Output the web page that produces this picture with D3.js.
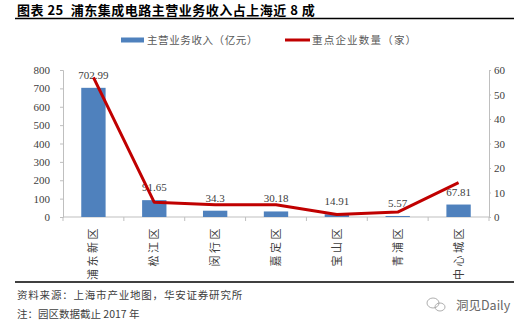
<!DOCTYPE html>
<html>
<head>
<meta charset="utf-8">
<script src="https://cdn.jsdelivr.net/npm/d3@7/dist/d3.min.js"></script>
<style>
  html, body { margin: 0; padding: 0; background: #fff; }
  svg { display: block; }
  text { white-space: pre; }
</style>
</head>
<body>
<svg id="chart" width="529" height="328"></svg>
<script>
// Districts, main-business revenue (100M yuan) and number of key firms
const districts = ["浦东新区", "松江区", "闵行区", "嘉定区", "宝山区", "青浦区", "中心城区"];
const revenue = [702.99, 91.65, 34.3, 30.18, 14.91, 5.57, 67.81];
const firms = [57, 6, 5, 5, 1, 2, 14];
const leftTicks = [0, 100, 200, 300, 400, 500, 600, 700, 800];
const rightTicks = [0, 10, 20, 30, 40, 50, 60];

const titleText = "图表 25  浦东集成电路主营业务收入占上海近 8 成";
const legendRevenue = "主营业务收入（亿元）";
const legendFirms = "重点企业数量（家）";
const sourceText = "资料来源：上海市产业地图，华安证券研究所";
const noteText = "注：园区数据截止 2017 年";

const svg = d3.select("#chart");
const cjk = "'Noto Sans CJK SC', 'Noto Sans', sans-serif";
const serif = "'Liberation Serif', 'DejaVu Serif', serif";
const barColor = "#4F81BD";
const lineColor = "#C00000";
const axisColor = "#BFBFBF";

const plot = { left: 63, right: 489, top: 70, bottom: 217 };

const x = d3.scaleBand().domain(districts)
  .range([plot.left, plot.right]).paddingInner(0.6).paddingOuter(0.3);
const yL = d3.scaleLinear().domain([0, 800]).range([plot.bottom, plot.top]);
const yR = d3.scaleLinear().domain([0, 60]).range([plot.bottom, plot.top]);

// Title and rules
svg.append("text").attr("x", 17).attr("y", 15)
  .attr("font-family", cjk).attr("font-weight", "bold").attr("font-size", 13)
  .attr("letter-spacing", 0.5)
  .attr("fill", "#000").text(titleText);
svg.append("line").attr("x1", 15).attr("x2", 514).attr("y1", 18.5).attr("y2", 18.5)
  .attr("stroke", "#000").attr("stroke-width", 1.3);
svg.append("line").attr("x1", 15).attr("x2", 514).attr("y1", 282).attr("y2", 282)
  .attr("stroke", "#000").attr("stroke-width", 1.3);

// Legend
const lg = svg.append("g").attr("font-family", cjk).attr("font-size", 10.5).attr("fill", "#595959");
lg.append("rect").attr("x", 121).attr("y", 37.5).attr("width", 23).attr("height", 5).attr("fill", barColor);
lg.append("text").attr("x", 147).attr("y", 44).attr("letter-spacing", 0.6).text(legendRevenue);
lg.append("line").attr("x1", 285).attr("x2", 310).attr("y1", 40).attr("y2", 40)
  .attr("stroke", lineColor).attr("stroke-width", 3);
lg.append("text").attr("x", 312).attr("y", 44).attr("letter-spacing", 1.2).text(legendFirms);

// Left axis
const axL = svg.append("g").attr("transform", `translate(${plot.left},0)`)
  .call(d3.axisLeft(yL).tickValues(leftTicks).tickSize(3).tickPadding(10).tickFormat(d3.format("d")));
// Right axis
const axR = svg.append("g").attr("transform", `translate(${plot.right},0)`)
  .call(d3.axisRight(yR).tickValues(rightTicks).tickSize(2).tickPadding(3).tickFormat(d3.format("d")));
[axL, axR].forEach(a => {
  a.select(".domain").attr("stroke", axisColor);
  a.selectAll(".tick line").attr("stroke", axisColor);
  a.selectAll(".tick text").attr("font-family", serif).attr("font-size", 11).attr("fill", "#404040");
});

// Category axis with ticks at band boundaries
const step = x.step();
const bounds = d3.range(districts.length + 1).map(i => plot.left + i * step);
svg.append("line").attr("x1", plot.left).attr("x2", plot.right)
  .attr("y1", plot.bottom).attr("y2", plot.bottom).attr("stroke", axisColor);
svg.append("g").selectAll("line").data(bounds).join("line")
  .attr("x1", d => d).attr("x2", d => d)
  .attr("y1", plot.bottom).attr("y2", plot.bottom + 4).attr("stroke", axisColor);

// Rotated category labels
svg.append("g").selectAll("text").data(districts).join("text")
  .attr("transform", d => `translate(${x(d) + x.bandwidth() / 2 + 4},226) rotate(-90)`)
  .attr("text-anchor", "end")
  .attr("font-family", cjk).attr("font-size", 11).attr("letter-spacing", 2.5)
  .attr("fill", "#404040").text(d => d);

// Bars
svg.append("g").selectAll("rect").data(revenue).join("rect")
  .attr("x", (d, i) => x(districts[i]))
  .attr("y", d => yL(d))
  .attr("width", x.bandwidth())
  .attr("height", d => yL(0) - yL(d))
  .attr("fill", barColor);

// Value labels
svg.append("g").selectAll("text").data(revenue).join("text")
  .attr("x", (d, i) => x(districts[i]) + x.bandwidth() / 2)
  .attr("y", d => yL(d) - 9)
  .attr("text-anchor", "middle")
  .attr("font-family", serif).attr("font-size", 11).attr("fill", "#404040")
  .text(d => d);

// Firm count line
const line = d3.line()
  .x((d, i) => x(districts[i]) + x.bandwidth() / 2)
  .y(d => yR(d));
svg.append("path").datum(firms).attr("d", line)
  .attr("fill", "none").attr("stroke", lineColor).attr("stroke-width", 3)
  .attr("stroke-linejoin", "round");

// Footer
svg.append("text").attr("x", 17).attr("y", 299)
  .attr("font-family", cjk).attr("font-size", 10.5).attr("letter-spacing", 0.8)
  .attr("fill", "#404040").text(sourceText);
svg.append("text").attr("x", 17).attr("y", 318)
  .attr("font-family", cjk).attr("font-size", 10.5)
  .attr("fill", "#404040").text(noteText);

// Account mark
const wm = svg.append("g").attr("fill", "none").attr("stroke", "#9a9a9a").attr("stroke-width", 0.8);
wm.append("ellipse").attr("cx", 433).attr("cy", 303).attr("rx", 6).attr("ry", 5);
wm.append("ellipse").attr("cx", 440).attr("cy", 307).attr("rx", 5).attr("ry", 4);
svg.append("text").attr("x", 456).attr("y", 310)
  .attr("font-family", cjk).attr("font-size", 12.5).attr("fill", "#666").text("洞见Daily");
</script>
</body>
</html>
